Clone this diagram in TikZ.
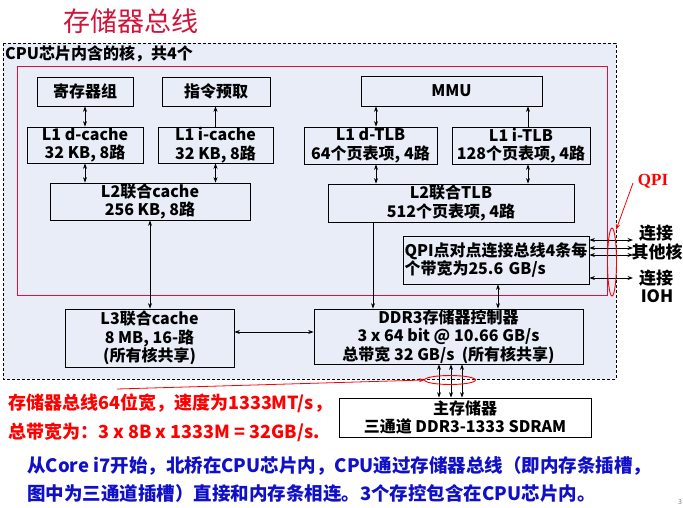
\documentclass[tikz,border=0pt]{standalone}
\usepackage{fontspec}
\setmainfont{Noto Sans CJK SC}
\newfontfamily\tmf{Liberation Serif}
\usetikzlibrary{arrows.meta}
\definecolor{bgblue}{HTML}{E8EDF8}
\definecolor{crim}{HTML}{E0103A}
\definecolor{ttl}{HTML}{D2143A}
\definecolor{redtxt}{HTML}{FF0000}
\definecolor{bluetxt}{HTML}{1010C8}
\tikzset{
  blk/.style={draw=black, line width=0.8pt, inner sep=0pt, align=center,
    font=\fontsize{16}{18.5}\selectfont\bfseries},
  con/.style={line width=0.7pt, -{Stealth[length=5.5pt,width=4pt]}},
  dcon/.style={line width=0.7pt, {Stealth[length=5.5pt,width=4pt]}-{Stealth[length=5.5pt,width=4pt]}},
  rcon/.style={draw=red, line width=0.8pt, -{Stealth[length=6pt,width=4pt]}},
  sidetxt/.style={inner sep=0pt, font=\fontsize{17}{19}\selectfont\bfseries},
  redline/.style={inner sep=0pt, anchor=west, text=redtxt, font=\fontsize{18}{20}\selectfont\bfseries},
  blueline/.style={inner sep=0pt, anchor=west, text=bluetxt, font=\fontsize{18.5}{20}\selectfont\bfseries}
}
\begin{document}
\begin{tikzpicture}[x=1pt,y=-1pt]
\useasboundingbox[fill=white] (0,0) rectangle (683,508);
% title
\node[inner sep=0pt, text=ttl, font=\fontsize{27}{30}\selectfont] (title) at (131,21) {存储器总线};
% CPU chip area
\draw[dash pattern=on 3pt off 2pt, line width=0.7pt, fill=bgblue] (3,43) rectangle (616,379);
\node[inner sep=0pt, anchor=west, font=\fontsize{16}{18}\selectfont\bfseries] (cpulbl) at (5,54) {CPU芯片内含的核，共4个};
\draw[crim, line width=0.9pt] (17,66) rectangle (607,295);
% boxes
\node[blk, minimum width=96, minimum height=29] (reg) at (85,91.5) {寄存器组};
\node[blk, minimum width=108, minimum height=29] (fetch) at (216,91.5) {指令预取};
\node[blk, minimum width=181, minimum height=30] (mmu) at (451.5,91) {MMU};
\node[blk, minimum width=116, minimum height=36] (l1d) at (85,145) {L1 d-cache\\32 KB, 8路};
\node[blk, minimum width=115, minimum height=36] (l1i) at (215.5,145) {L1 i-cache\\32 KB, 8路};
\node[blk, minimum width=133, minimum height=37] (dtlb) at (370.5,145.5) {L1 d-TLB\\64个页表项, 4路};
\node[blk, minimum width=138, minimum height=37] (itlb) at (521,145.5) {L1 i-TLB\\128个页表项, 4路};
\node[blk, minimum width=200, minimum height=37] (l2c) at (150,201.5) {L2联合cache\\256 KB, 8路};
\node[blk, minimum width=246, minimum height=38] (l2t) at (451,203) {L2联合TLB\\512个页表项, 4路};
\node[blk, minimum width=186, minimum height=48, text width=183pt, align=left, inner xsep=1.5pt] (qpi) at (496,260) {QPI点对点连接总线4条每\\个带宽为25.6 GB/s};
\node[blk, minimum width=169, minimum height=58] (l3) at (149.5,338) {L3联合cache\\8 MB, 16-路\\(所有核共享)};
\node[blk, minimum width=269, minimum height=55] (ddr) at (448.5,336.5) {DDR3存储器控制器\\3 x 64 bit @ 10.66 GB/s\\总带宽 32 GB/s\ \ (所有核共享)};
\node[blk, minimum width=252, minimum height=39, fill=white] (mem) at (465,417.5) {主存储器\\三通道 DDR3-1333 SDRAM};
% connectors
\draw[dcon] (l1d.north) -- (l1d.north |- reg.south);
\draw[con] (l1i.north) -- (l1i.north |- fetch.south);
\draw[dcon] (l1d.south) -- (l1d.south |- l2c.north);
\draw[dcon] (l1i.south) -- (l1i.south |- l2c.north);
\draw[dcon] (l2c.south) -- (l2c.south |- l3.north);
\draw[dcon] ([xshift=5.5pt]dtlb.north) -- ([xshift=5.5pt]dtlb.north |- mmu.south);
\draw[con] ([xshift=7pt]itlb.north) -- ([xshift=7pt]itlb.north |- mmu.south);
\draw[dcon] ([xshift=5.5pt]dtlb.south) -- ([xshift=5.5pt]dtlb.south |- l2t.north);
\draw[dcon] ([xshift=7pt]itlb.south) -- ([xshift=7pt]itlb.south |- l2t.north);
\draw[con] ([xshift=-78pt]l2t.south) -- ([xshift=-78pt]l2t.south |- ddr.north);
\draw[dcon] ([xshift=2pt]qpi.south) -- ([xshift=2pt]qpi.south |- ddr.north);
\draw[dcon] ([yshift=6pt]l3.east) -- ([yshift=6pt]l3.east -| ddr.west);
\foreach \dx in {-9.5,2.5,13.5}
  \draw[dcon] ([xshift=\dx pt]ddr.south) -- ([xshift=\dx pt]ddr.south |- mem.north);
% QPI links
\coordinate (q1) at (633,240);
\coordinate (q2) at (633,248);
\coordinate (q3) at (633,255);
\coordinate (q4) at (633,278);
\foreach \q in {q1,q2,q3,q4}
  \draw[dcon] (qpi.east |- \q) -- (\q);
\node[sidetxt] (t1) at (656,233) {连接};
\node[sidetxt] (t2) at (657,252) {其他核};
\node[sidetxt] (t3) at (656,278) {连接};
\node[sidetxt] (t4) at (657,296) {IOH};
% ellipses
\draw[red, line width=0.9pt] (612,262) ellipse [x radius=4.5, y radius=34];
\draw[red, line width=0.9pt] (450,380) ellipse [x radius=25.5, y radius=4.5];
\node[inner sep=0pt, text=red, font=\fontsize{17}{19}\selectfont\tmf\bfseries] (qpilbl) at (653,181) {QPI};
\coordinate (qa) at (633,183);
\coordinate (qb) at (616,230);
\draw[rcon] (qa) -- (qb);
\coordinate (ba) at (117,389);
\coordinate (bb) at (425,380);
\draw[rcon] (ba) -- (bb);
% red notes
\node[redline] (r1) at (8,403) {存储器总线64位宽，速度为1333MT/s，};
\node[redline] (r2) at (8,432) {总带宽为：3 x 8B x 1333M = 32GB/s.};
% blue notes
\node[blueline] (b1) at (27,466) {从Core i7开始，北桥在CPU芯片内，CPU通过存储器总线（即内存条插槽，};
\node[blueline] (b2) at (27,493) {图中为三通道插槽）直接和内存条相连。3个存控包含在CPU芯片内。};
\node[inner sep=0pt, text=gray, font=\fontsize{7}{8}\selectfont] (pg) at (680,502) {3};
\end{tikzpicture}
\end{document}
